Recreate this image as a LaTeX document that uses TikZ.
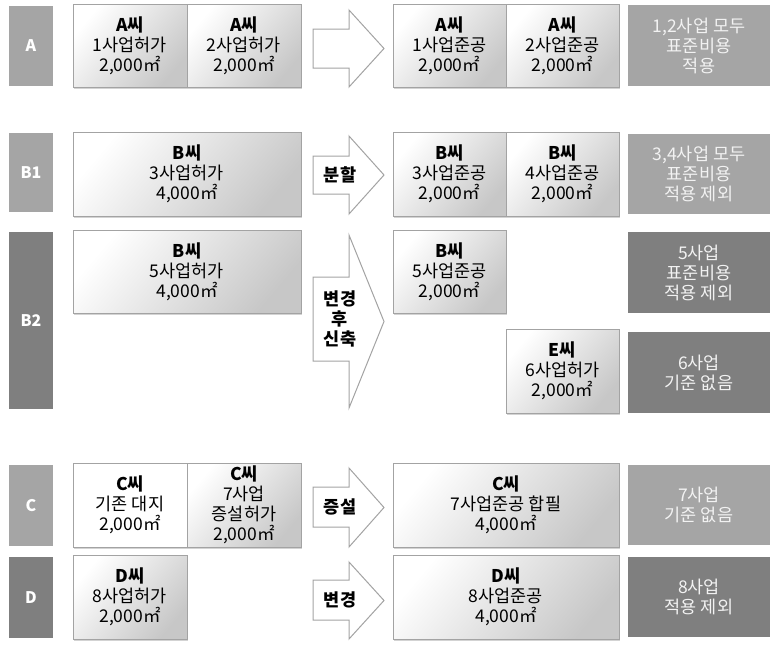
\documentclass[tikz,border=0pt]{standalone}
\usepackage{fontspec}
\setmainfont{Noto Sans CJK KR}
\usetikzlibrary{shadows}
\definecolor{midgray}{HTML}{A5A5A5}
\definecolor{deepgray}{HTML}{7F7F7F}
\definecolor{edgegray}{HTML}{A3A3A3}
\definecolor{restext}{HTML}{F2F2F2}
\newcommand{\boxfont}{\fontsize{17.5}{20}\selectfont}
\tikzstyle{lbl} = [fill=midgray, draw=white, line width=2.5pt, text=white, font=\fontsize{16}{20}\selectfont\bfseries, minimum width=46, inner sep=0pt, drop shadow={shadow xshift=0.6pt, shadow yshift=-1.2pt, opacity=0.25}]
\tikzstyle{lbldark} = [lbl, fill=deepgray]
\tikzstyle{pbox} = [draw=edgegray, line width=0.6pt, top color=white, bottom color=black!22, shading angle=50, align=center, inner sep=0pt, drop shadow={shadow xshift=0.6pt, shadow yshift=-1.6pt, opacity=0.35}]
\tikzstyle{res} = [fill=midgray, draw=white, line width=2.5pt, text=restext, align=center, minimum width=145, inner sep=0pt, drop shadow={shadow xshift=0.6pt, shadow yshift=-1.4pt, opacity=0.25}]
\tikzstyle{resdark} = [res, fill=deepgray]
\tikzstyle{barrow} = [draw=edgegray, fill=white, line width=1pt, line join=miter]
\tikzstyle{atext} = [font=\boxfont\bfseries, align=center, inner sep=0pt]
\newcommand{\bigarrow}[6]{%
  \draw [barrow] (313,#2) -- (349,#2) -- (349,#4) -- (384,{(#4+#5)/2}) -- (349,#5) -- (349,#3) -- (313,#3) -- cycle;
  \node [atext] (#1) at (340,{(#2+#3)/2}) {#6};
}

\begin{document}
\begin{tikzpicture}[x=1pt, y=-1pt, font=\boxfont]
    \useasboundingbox (0,0) rectangle (779,649);

    % row labels
    \node [lbl, minimum height=82] (labA) at (31,46) {A};
    \node [lbl, minimum height=81] (labB1) at (31,172.5) {B1};
    \node [lbldark, minimum height=179] (labB2) at (31,320.5) {B2};
    \node [lbl, minimum height=83] (labC) at (31,505.5) {C};
    \node [lbldark, minimum height=83] (labD) at (31,597.5) {D};

    % permits
    \node [pbox, minimum width=114, minimum height=83] (a1) at (130,45.5) {\textbf{A씨}\\1사업허가\\2,000㎡};
    \node [pbox, minimum width=114, minimum height=83] (a2) at (244,45.5) {\textbf{A씨}\\2사업허가\\2,000㎡};
    \node [pbox, minimum width=228, minimum height=84] (b3) at (187,174) {\textbf{B씨}\\3사업허가\\4,000㎡};
    \node [pbox, minimum width=228, minimum height=83] (b5) at (187,271.5) {\textbf{B씨}\\5사업허가\\4,000㎡};
    \node [pbox, minimum width=114, minimum height=84, shading=axis, top color=white, bottom color=white] (c0) at (130,505) {\textbf{C씨}\\기존 대지\\2,000㎡};
    \node [pbox, minimum width=114, minimum height=84] (c7) at (244,505) {\textbf{C씨}\\7사업\\증설허가\\2,000㎡};
    \node [pbox, minimum width=114, minimum height=84] (d8) at (130,597) {\textbf{D씨}\\8사업허가\\2,000㎡};

    % arrows
    \bigarrow{arA}{29}{68}{10}{87}{}
    \bigarrow{arB1}{156}{194}{136}{214}{분할}
    \bigarrow{arB2}{277}{361}{235}{408}{변경\\후\\신축}
    \bigarrow{arC}{487}{527}{468}{547}{증설}
    \bigarrow{arD}{580}{620}{562}{639}{변경}

    % completions
    \node [pbox, minimum width=113, minimum height=83] (a3) at (449.5,45.5) {\textbf{A씨}\\1사업준공\\2,000㎡};
    \node [pbox, minimum width=113, minimum height=83] (a4) at (562.5,45.5) {\textbf{A씨}\\2사업준공\\2,000㎡};
    \node [pbox, minimum width=113, minimum height=84] (b3d) at (449.5,174) {\textbf{B씨}\\3사업준공\\2,000㎡};
    \node [pbox, minimum width=113, minimum height=84] (b4d) at (562.5,174) {\textbf{B씨}\\4사업준공\\2,000㎡};
    \node [pbox, minimum width=113, minimum height=83] (b5d) at (449.5,271.5) {\textbf{B씨}\\5사업준공\\2,000㎡};
    \node [pbox, minimum width=113, minimum height=84] (e6) at (562.5,371) {\textbf{E씨}\\6사업허가\\2,000㎡};
    \node [pbox, minimum width=226, minimum height=84] (c7d) at (506,505) {\textbf{C씨}\\7사업준공 합필\\4,000㎡};
    \node [pbox, minimum width=226, minimum height=84] (d8d) at (506,597) {\textbf{D씨}\\8사업준공\\4,000㎡};

    % results
    \node [res, minimum height=83] (rA) at (699,45.5) {1,2사업 모두\\표준비용\\적용};
    \node [res, minimum height=82] (rB1) at (699,174) {3,4사업 모두\\표준비용\\적용 제외};
    \node [resdark, minimum height=83] (rB2) at (699,272.5) {5사업\\표준비용\\적용 제외};
    \node [resdark, minimum height=83] (rE) at (699,372.5) {6사업\\기준 없음};
    \node [res, minimum height=82] (rC) at (699,505) {7사업\\기준 없음};
    \node [resdark, minimum height=82] (rD) at (699,597) {8사업\\적용 제외};
\end{tikzpicture}
\end{document}
